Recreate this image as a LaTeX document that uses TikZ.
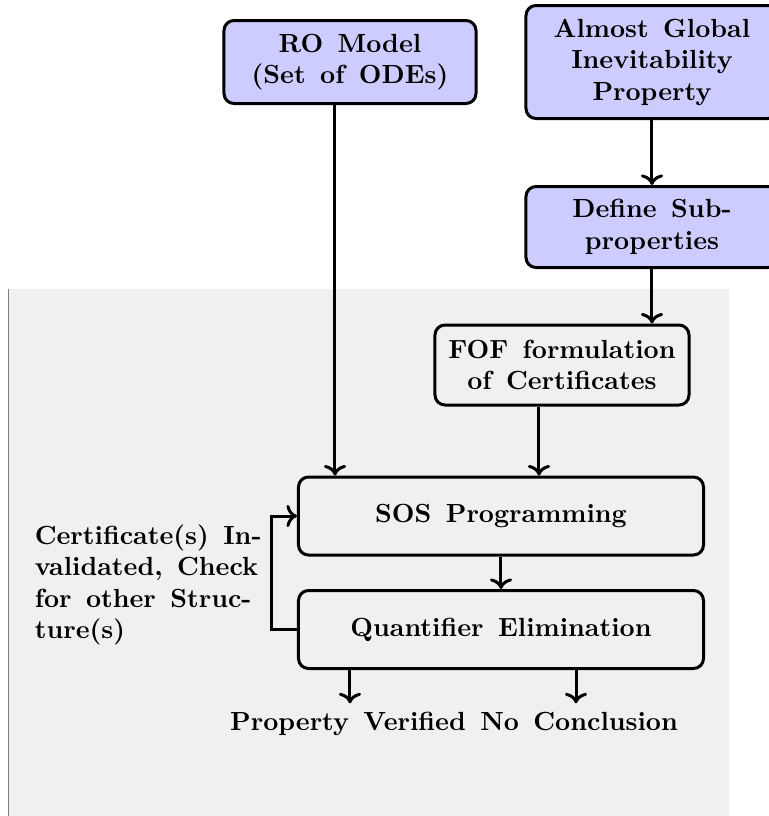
\documentclass[tikz,border=0pt]{standalone}
\usepackage{tikz}
\usetikzlibrary{positioning, arrows.meta}
\newcommand{\anchoespacio}{\fontsize{10.5pt}{12.6pt}\selectfont\spaceskip=0.55em\relax}
\tikzset{bloque/.style={draw, line width=1.2pt, rounded corners=4pt, align=center, font=\bfseries\anchoespacio, inner sep=2pt}}
\tikzset{azul/.style={bloque, fill=blue!20}}
\tikzset{arco/.style={line width=1.2pt, ->}}
\tikzset{nota/.style={draw=none, fill=none, font=\bfseries\anchoespacio}}

\begin{document}
\begin{tikzpicture}[
                x = 0.4pt, y = -0.4pt
            ]
                \useasboundingbox (0,0) rectangle (769,816);
                \fill[black!6] (9,289) rectangle (729,816);
                \draw[gray, thin] (9,289) -- (9,816);

                \node[azul, minimum width=100.8pt, minimum height=33.2pt] (ro) at (350,62) {RO Model\\(Set of ODEs)};
                \node[azul, minimum width=100.8pt, minimum height=45.2pt] (agip) at (652,62) {Almost Global\\Inevitability\\Property};
                \node[azul, minimum width=100.8pt, minimum height=32.4pt, below= 26pt of agip] (sub) {Define Sub-\\properties};
                \node[bloque, minimum width=101.6pt, minimum height=32pt] (fof) at (562,365) {FOF formulation\\of Certificates};
                \node[bloque, minimum width=162pt, minimum height=31.2pt] (sos) at (501,516) {SOS Programming};
                \node[bloque, minimum width=162pt, minimum height=31.2pt, below= 13pt of sos] (qe) {Quantifier Elimination};
                \node[nota, align=left, anchor=west] (cert) at (26,585) {Certificate(s) In-\\validated, Check\\for other Struc-\\ture(s)};
                \node[nota] (res) at (454,724) {Property Verified No Conclusion};

                \draw[arco] ([xshift=-6pt]ro.south) to [] ([xshift=-6pt]ro.south |- sos.north);
                \draw[arco] (agip) to [] (sub);
                \draw[arco] (sub) to [] (sub.south |- fof.north);
                \draw[arco] ([xshift=-9.2pt]fof.south) to [] ([xshift=-9.2pt]fof.south |- sos.north);
                \draw[arco] (sos) to [] (qe);
                \draw[arco] (qe.west) -- ++(-10pt,0) |- (sos.west);
                \draw[arco] ([xshift=-60.4pt]qe.south) to [] ([xshift=-60.4pt]qe.south |- res.north);
                \draw[arco] ([xshift=30pt]qe.south) to [] ([xshift=30pt]qe.south |- res.north);
            \end{tikzpicture}
\end{document}
